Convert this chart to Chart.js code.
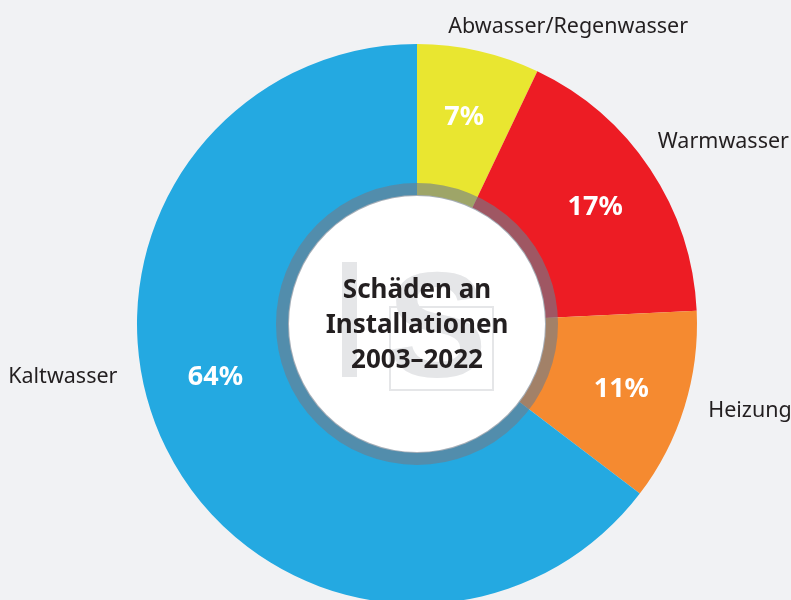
<!DOCTYPE html>
<html>
<head>
<meta charset="utf-8">
<script src="https://cdn.jsdelivr.net/npm/chart.js@4"></script>
<style>
  html, body { margin: 0; padding: 0; background: #f1f2f4; overflow: hidden; }
  #wrap { position: absolute; left: 0; top: 0; width: 791px; height: 650px; }
</style>
</head>
<body>
<div id="wrap"><canvas id="chart" width="791" height="650"></canvas></div>
<script>
// --- data ---
const categories = ['Abwasser/Regenwasser', 'Warmwasser', 'Heizung', 'Kaltwasser'];
const shares = [7, 17, 11, 64];
const colors = ['#e9e630', '#ed1c24', '#f58a30', '#24a9e1'];
const centerLines = ['Schäden an', 'Installationen', '2003–2022'];

const FONT = '"Noto Sans", "Open Sans", sans-serif';

// white disc + translucent ring + watermark + centre title
const centerPlugin = {
    id: 'centerDisc',
    afterDatasetsDraw(chart) {
        const arc = chart.getDatasetMeta(0).data[0];
        const { x, y, innerRadius } = arc.getProps(['x', 'y', 'innerRadius'], true);
        const ctx = chart.ctx;
        ctx.save();
        ctx.beginPath();
        ctx.arc(x, y, innerRadius + 1, 0, Math.PI * 2);
        ctx.fillStyle = '#ffffff';
        ctx.fill();

        ctx.beginPath();
        ctx.arc(x, y, innerRadius + 6.5, 0, Math.PI * 2);
        ctx.lineWidth = 13;
        ctx.strokeStyle = 'rgba(112, 124, 138, 0.62)';
        ctx.stroke();

        // faint logo behind the title
        ctx.fillStyle = '#e5e6e8';
        ctx.strokeStyle = '#e5e6e8';
        ctx.fillRect(x - 75, y - 62, 15, 115);
        ctx.font = 'bold 150px "Liberation Sans", sans-serif';
        ctx.textAlign = 'left';
        ctx.textBaseline = 'alphabetic';
        ctx.fillText('S', x - 30, y + 53);
        ctx.lineWidth = 2;
        ctx.strokeRect(x - 27, y - 17, 103, 83);

        ctx.fillStyle = '#231f20';
        ctx.font = 'bold 26px ' + FONT;
        ctx.textAlign = 'center';
        ctx.textBaseline = 'middle';
        centerLines.forEach((line, i) => {
            ctx.fillText(line, x, y - 33 + i * 35);
        });
        ctx.restore();
    }
};

// percentages on the slices and category names outside
const labelPlugin = {
    id: 'sliceLabels',
    afterDraw(chart) {
        const meta = chart.getDatasetMeta(0);
        const ctx = chart.ctx;
        const outerPos = [
            { dx: 0.54, dy: -1.06, align: 'center' },
            { dx: 0.86, dy: -0.65, align: 'left' },
            { dx: 1.04, dy: 0.31, align: 'left' },
            { dx: -1.46, dy: 0.19, align: 'left' }
        ];
        ctx.save();
        meta.data.forEach((arc, i) => {
            const p = arc.getProps(['x', 'y', 'startAngle', 'endAngle', 'outerRadius'], true);
            let mid = (p.startAngle + p.endAngle) / 2;
            if (i === 3) mid = Math.PI - 0.25; // biggest slice: label left of centre
            const r = i === 3 ? 208 : 214;
            ctx.fillStyle = '#ffffff';
            ctx.font = 'bold 27px ' + FONT;
            ctx.textAlign = 'center';
            ctx.textBaseline = 'middle';
            ctx.fillText(shares[i] + '%', p.x + Math.cos(mid) * r, p.y + 2 + Math.sin(mid) * r);

            const o = outerPos[i];
            ctx.fillStyle = '#231f20';
            ctx.font = '21.5px ' + FONT;
            ctx.textAlign = o.align;
            ctx.fillText(categories[i], p.x + o.dx * p.outerRadius, p.y + o.dy * p.outerRadius);
        });
        ctx.restore();
    }
};

new Chart(document.getElementById('chart'), {
    type: 'doughnut',
    data: {
        labels: categories,
        datasets: [{
            data: shares,
            backgroundColor: colors,
            borderWidth: 0,
            hoverOffset: 0
        }]
    },
    options: {
        responsive: false,
        animation: false,
        devicePixelRatio: 1,
        cutout: 128,
        layout: { padding: { left: 137, right: 94, top: 44, bottom: 46 } },
        plugins: { legend: { display: false }, tooltip: { enabled: false } }
    },
    plugins: [centerPlugin, labelPlugin]
});
</script>
</body>
</html>
